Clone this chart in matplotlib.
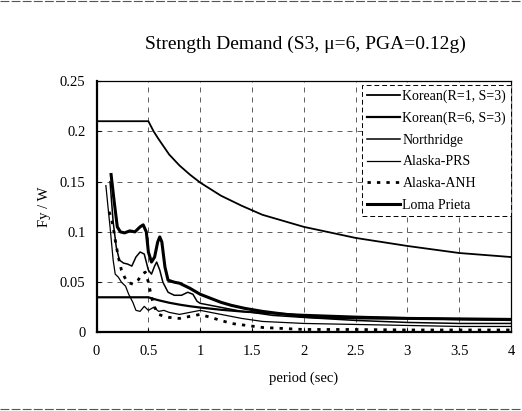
import matplotlib
matplotlib.use("Agg")
import matplotlib.pyplot as plt
from matplotlib.lines import Line2D

plt.rcParams['font.family'] = ['Liberation Serif', 'DejaVu Serif']

# ---- data ----
period_korean = [0, 0.5, 0.55, 0.6, 0.7, 0.8, 0.9, 1.0, 1.2, 1.4, 1.6, 1.8, 2.0, 2.5, 3.0, 3.5, 4.0]
korean_r1 = [0.21, 0.21, 0.200, 0.192, 0.177, 0.166, 0.157, 0.149, 0.136, 0.126, 0.117,
             0.111, 0.105, 0.094, 0.086, 0.079, 0.075]
korean_r6 = [0.035, 0.035, 0.0334, 0.032, 0.0296, 0.0277, 0.0261, 0.0248, 0.0226, 0.0209,
             0.0196, 0.0184, 0.0175, 0.0157, 0.0143, 0.0132, 0.0124]

period_northridge = [0.13, 0.16, 0.19, 0.22, 0.26, 0.3, 0.34, 0.38, 0.42, 0.46, 0.5, 0.53,
                     0.56, 0.58, 0.61, 0.64, 0.69, 0.75, 0.82, 0.88, 0.93, 0.97, 1.0, 1.1,
                     1.2, 1.3, 1.4, 1.5, 1.7, 2.0, 2.5, 3.0, 3.5, 4.0]
northridge = [0.15, 0.11, 0.085, 0.072, 0.069, 0.068, 0.066, 0.075, 0.08, 0.078, 0.062, 0.058,
              0.066, 0.07, 0.062, 0.05, 0.04, 0.037, 0.037, 0.04, 0.038, 0.031, 0.029, 0.027,
              0.025, 0.023, 0.021, 0.02, 0.017, 0.015, 0.012, 0.010, 0.009, 0.009]

period_prs = [0.09, 0.11, 0.13, 0.16, 0.18, 0.21, 0.24, 0.28, 0.31, 0.35, 0.38, 0.42, 0.46,
              0.5, 0.55, 0.6, 0.65, 0.7, 0.8, 0.9, 1.0, 1.2, 1.4, 1.6, 2.0, 2.5, 3.0, 3.5, 4.0]
alaska_prs = [0.146, 0.125, 0.105, 0.072, 0.058, 0.055, 0.05, 0.046, 0.038, 0.03, 0.022, 0.021,
              0.026, 0.022, 0.025, 0.021, 0.022, 0.02, 0.018, 0.02, 0.022, 0.018, 0.014, 0.011,
              0.009, 0.008, 0.007, 0.006, 0.006]

period_anh = [0.12, 0.14, 0.16, 0.18, 0.21, 0.24, 0.27, 0.3, 0.35, 0.4, 0.44, 0.47, 0.5, 0.53,
              0.56, 0.6, 0.65, 0.7, 0.8, 0.9, 1.0, 1.1, 1.2, 1.3, 1.45, 1.6, 1.8, 2.0, 2.5,
              3.0, 3.5, 4.0]
alaska_anh = [0.12, 0.115, 0.105, 0.092, 0.075, 0.062, 0.055, 0.05, 0.048, 0.052, 0.058, 0.06,
              0.05, 0.035, 0.025, 0.018, 0.016, 0.015, 0.014, 0.016, 0.018, 0.015, 0.012, 0.009,
              0.007, 0.005, 0.004, 0.003, 0.003, 0.0025, 0.0025, 0.0025]

period_loma = [0.14, 0.17, 0.2, 0.23, 0.27, 0.32, 0.37, 0.42, 0.45, 0.48, 0.5, 0.53, 0.56, 0.59,
               0.61, 0.63, 0.66, 0.69, 0.75, 0.8, 0.9, 1.0, 1.1, 1.2, 1.3, 1.43, 1.6, 1.75,
               2.0, 2.2, 2.5, 3.0, 3.5, 4.0]
loma_prieta = [0.157, 0.13, 0.105, 0.1, 0.099, 0.101, 0.1, 0.105, 0.107, 0.1, 0.08, 0.07, 0.075,
               0.09, 0.095, 0.09, 0.065, 0.052, 0.05, 0.049, 0.044, 0.038, 0.034, 0.030, 0.027,
               0.024, 0.021, 0.019, 0.016, 0.015, 0.0145, 0.014, 0.0135, 0.013]

x_ticks = [0, 0.5, 1, 1.5, 2, 2.5, 3, 3.5, 4]
x_tick_labels = ['0', '0.5', '1', '1.5', '2', '2.5', '3', '3.5', '4']
y_ticks = [0, 0.05, 0.1, 0.15, 0.2, 0.25]
y_tick_labels = ['0', '0.05', '0.1', '0.15', '0.2', '0.25']

# ---- figure ----
fig = plt.figure(figsize=(5.22, 4.11), dpi=100)
ax = fig.add_axes([0.185, 0.191, 0.794, 0.612])

ax.plot(period_korean, korean_r1, color='black', lw=1.3, label='Korean(R=1, S=3)')
ax.plot(period_korean, korean_r6, color='black', lw=1.6, label='Korean(R=6, S=3)')
ax.plot(period_northridge, northridge, color='black', lw=1.1, label='Northridge')
ax.plot(period_prs, alaska_prs, color='black', lw=0.9, label='Alaska-PRS')
ax.plot(period_anh, alaska_anh, color='black', lw=2.0, ls=(0, (1.2, 2.2)), label='Alaska-ANH')
ax.plot(period_loma, loma_prieta, color='black', lw=2.2, label='Loma Prieta')

ax.set_xlim(0, 4)
ax.set_ylim(0, 0.25)
ax.set_xticks(x_ticks)
ax.set_xticklabels(x_tick_labels)
ax.set_yticks(y_ticks)
ax.set_yticklabels(y_tick_labels)
ax.tick_params(direction='in', length=3, width=0.8, labelsize=10.5, pad=8)
ax.tick_params(axis='x', pad=9)

ax.grid(True, color='#444444', lw=0.6, ls=(0, (6, 6)))
for name, sp in ax.spines.items():
    sp.set_color('black')
    sp.set_linewidth(1.6 if name in ('left', 'bottom') else 0.9)

ax.set_xlabel('period (sec)', fontsize=10.5, labelpad=10)
ax.set_ylabel('Fy / W', fontsize=10.5, labelpad=6)

leg = ax.legend(loc='upper right', bbox_to_anchor=(1.0, 0.985), fontsize=10,
                frameon=True, fancybox=False, handlelength=2.4, handletextpad=0.15,
                labelspacing=0.62, borderpad=0.35, borderaxespad=0.0)
fr = leg.get_frame()
fr.set_edgecolor('black')
fr.set_linewidth(0.7)
fr.set_linestyle((0, (5, 3)))
fr.set_facecolor('white')
fr.set_alpha(1.0)

fig.text(0.586, 0.893, 'Strength Demand (S3, μ=6, PGA=0.12g)', ha='center', va='center',
         fontsize=14)

# scanned page border lines
fig.add_artist(Line2D([0.0, 1.0], [0.997, 0.997], transform=fig.transFigure,
                      color='#555555', lw=0.8, ls=(0, (8, 2))))
fig.add_artist(Line2D([0.0, 1.0], [0.006, 0.006], transform=fig.transFigure,
                      color='#555555', lw=0.8, ls=(0, (8, 2))))

fig.savefig('out.png', dpi=100, facecolor='white')
